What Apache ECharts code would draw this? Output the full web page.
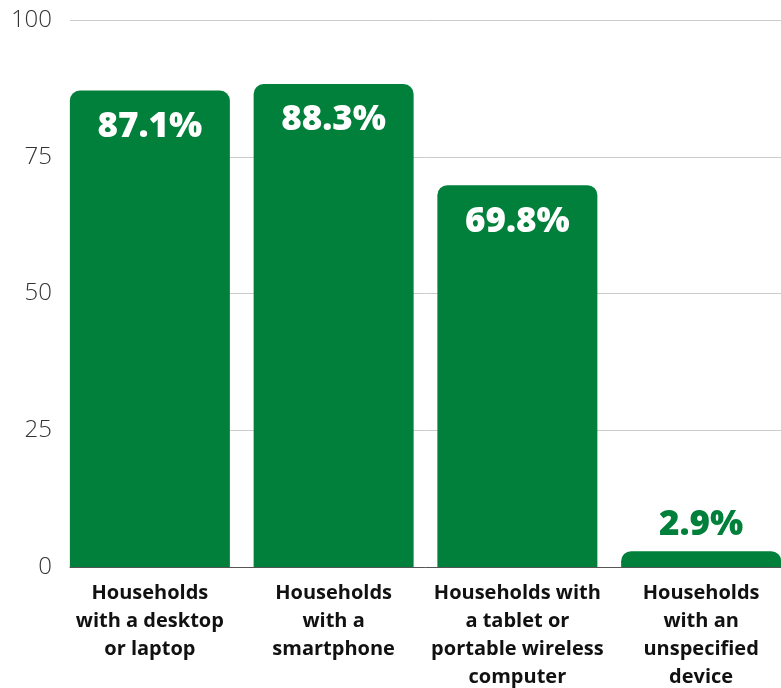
<!DOCTYPE html>
<html><head><meta charset="utf-8">
<script src="https://cdn.jsdelivr.net/npm/echarts@6/dist/echarts.min.js"></script>
<style>html,body{margin:0;padding:0;background:#fff;overflow:hidden}#c{width:781px;height:688px}</style>
</head><body><div id="c"></div>
<script>
var categories = ["Households\nwith a desktop\nor laptop","Households\nwith a\nsmartphone","Households with\na tablet or\nportable wireless\ncomputer","Households\nwith an\nunspecified\ndevice"];
var values = [87.1, 88.3, 69.8, 2.9];
var yTicks = [0, 25, 50, 75, 100];
var green = '#00803A';
var chart = echarts.init(document.getElementById('c'));
var data = values.map(function(v){
  var small = v < 10;
  return {value: v, label: small ? {position:'top', distance: 9, color: green} : {position:'insideTop', distance: 19, color:'#fff'}};
});
chart.setOption({
  animation:false,
  grid:[{left:70, right:0, top:20, bottom:121, outerBoundsMode:'none'},{left:58, width:735, top:20, bottom:121, outerBoundsMode:'none'}],
  xAxis:[
    {gridIndex:0, type:'category', data:categories, axisLine:{show:true, lineStyle:{color:'#555', width:1}}, axisTick:{show:false}, axisLabel:{show:false}},
    {gridIndex:1, type:'category', data:categories, axisLine:{show:false}, axisTick:{show:false},
     axisLabel:{interval:0, margin:12, fontFamily:'Open Sans', fontWeight:'bold', fontSize:20, lineHeight:28, color:'#111'}}
  ],
  yAxis:[
    {gridIndex:0, type:'value', min:yTicks[0], max:yTicks[yTicks.length-1], interval:25,
     axisLine:{show:false}, axisTick:{show:false},
     axisLabel:{margin:18, fontFamily:'Open Sans', fontWeight:300, fontSize:24, color:'#333'},
     splitLine:{lineStyle:{color:'#cccccc', width:1}}},
    {gridIndex:1, type:'value', min:yTicks[0], max:yTicks[yTicks.length-1], interval:25, show:false, splitLine:{show:false}}
  ],
  series:[{
    type:'bar', xAxisIndex:1, yAxisIndex:1, data:data, barWidth:160,
    itemStyle:{color:green, borderRadius:[10,10,0,0]},
    label:{show:true, formatter:function(p){return p.value.toFixed(1)+'%';}, fontFamily:'Open Sans', fontWeight:800, fontSize:35}
  }]
});
</script></body></html>
